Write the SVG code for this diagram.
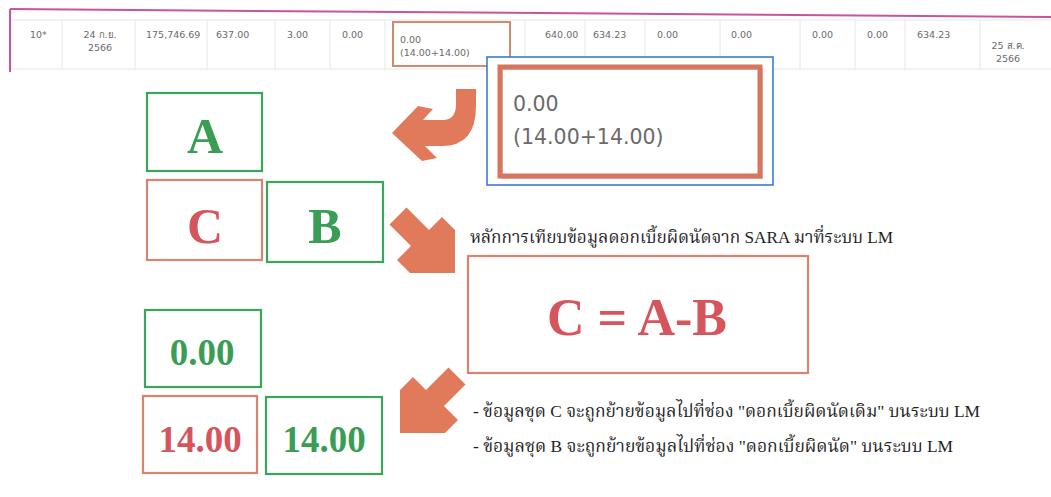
<svg xmlns="http://www.w3.org/2000/svg" width="1051" height="497" viewBox="0 0 1051 497">
<style>
.tb{font-family:"DejaVu Sans","Noto Sans",sans-serif;font-size:9.5px;fill:#6a6a6a}
.grid{stroke:#e6e6e6;stroke-width:1;fill:none}
.gbox{fill:none;stroke:#3aa65a;stroke-width:2.2}
.rbox{fill:none;stroke:#d98470;stroke-width:2.2}
.big{font-family:"Liberation Serif","Noto Serif",serif;font-weight:bold;text-anchor:middle}
.g{fill:#3a9d55}
.r{fill:#d6555d}
.arr{fill:#e07a5a}
.th{font-family:"Liberation Serif","Noto Serif Thai","Noto Sans Thai","Noto Sans","DejaVu Sans",serif;font-size:17px;fill:#1e1e1e}
</style>
<rect width="1051" height="497" fill="#ffffff"/>
<g id="table">
<path d="M10 9 L1051 17" stroke="#c8549a" stroke-width="2" fill="none"/>
<path d="M10 9 L10 72" stroke="#c8549a" stroke-width="2" fill="none"/>
<path class="grid" d="M11 20 H1051 M11 69 H1051 M62 20 V69 M135 20 V69 M207 20 V69 M275 20 V69 M330 20 V69 M385 20 V69 M525 20 V69 M585 20 V69 M645 20 V69 M720 20 V69 M800 20 V69 M855 20 V69 M905 20 V69 M980 20 V69"/>
<text class="tb" x="30" y="38">10*</text>
<text class="tb" x="100" y="38" text-anchor="middle">24 ก.ย.</text>
<text class="tb" x="100" y="51" text-anchor="middle">2566</text>
<text class="tb" x="146" y="38">175,746.69</text>
<text class="tb" x="216" y="38">637.00</text>
<text class="tb" x="287" y="38">3.00</text>
<text class="tb" x="342" y="38">0.00</text>
<rect x="393" y="22" width="117" height="44" fill="none" stroke="#d08a70" stroke-width="2"/>
<text class="tb" x="400" y="43">0.00</text>
<text class="tb" x="400" y="56">(14.00+14.00)</text>
<text class="tb" x="545" y="38">640.00</text>
<text class="tb" x="593" y="38">634.23</text>
<text class="tb" x="657" y="38">0.00</text>
<text class="tb" x="731" y="38">0.00</text>
<text class="tb" x="812" y="38">0.00</text>
<text class="tb" x="867" y="38">0.00</text>
<text class="tb" x="917" y="38">634.23</text>
<text class="tb" x="1008" y="49" text-anchor="middle">25 ส.ค.</text>
<text class="tb" x="1008" y="62" text-anchor="middle">2566</text>
</g>
<g id="zoomcell">
<rect x="487" y="57" width="286" height="128" fill="#ffffff" stroke="#3a7bd5" stroke-width="1.6"/>
<rect x="502" y="69" width="260" height="109" fill="none" stroke="#9a9a9a" stroke-width="2" opacity="0.5"/>
<rect x="500" y="67" width="260" height="109" fill="none" stroke="#d9755c" stroke-width="5"/>
<text x="513" y="111" font-family="DejaVu Sans,sans-serif" font-size="20.5" fill="#6a6a6a">0.00</text>
<text x="513" y="144" font-family="DejaVu Sans,sans-serif" font-size="20.5" fill="#6a6a6a">(14.00+14.00)</text>
</g>
<g id="nodeA"><rect class="gbox" x="147" y="93" width="115" height="78"/><text class="big g" x="205" y="153" font-size="50">A</text></g>
<g id="nodeC"><rect class="rbox" x="147" y="180" width="115" height="80"/><text class="big r" x="205" y="243" font-size="50">C</text></g>
<g id="nodeB"><rect class="gbox" x="267" y="182" width="116" height="80"/><text class="big g" x="325" y="243" font-size="50">B</text></g>
<g id="formula"><rect class="rbox" x="468" y="256" width="340" height="117"/><text class="big r" x="637" y="335" font-size="52">C = A-B</text></g>
<g id="title"><text class="th" x="470" y="243" textLength="423" lengthAdjust="spacingAndGlyphs">หลักการเทียบข้อมูลดอกเบี้ยผิดนัดจาก SARA มาที่ระบบ LM</text></g>
<g id="val0"><rect class="gbox" x="145" y="310" width="116" height="77"/><text class="big g" x="202" y="365" font-size="37">0.00</text></g>
<g id="valC"><rect class="rbox" x="143" y="396" width="114" height="77"/><text class="big r" x="200" y="452" font-size="37">14.00</text></g>
<g id="valB"><rect class="gbox" x="266" y="397" width="116" height="77"/><text class="big g" x="324" y="452" font-size="37">14.00</text></g>
<g id="notes">
<text class="th" x="473" y="417" textLength="507" lengthAdjust="spacingAndGlyphs">- ข้อมูลชุด C จะถูกย้ายข้อมูลไปที่ช่อง "ดอกเบี้ยผิดนัดเดิม" บนระบบ LM</text>
<text class="th" x="473" y="452" textLength="480" lengthAdjust="spacingAndGlyphs">- ข้อมูลชุด B จะถูกย้ายข้อมูลไปที่ช่อง "ดอกเบี้ยผิดนัด" บนระบบ LM</text>
</g>
<g id="connectors">
<path class="arr" d="M392 133 L418 106 L433 109 L423 120 L444 120 Q456 119 456 104 L456 89 L476 89 L476 106 Q476 146 442 146 L425 146 L437 158 L422 161 Z"/>
<path class="arr" d="M406.5 207.5 L429 230 L442 217 L455 230 L455 273 L410 273 L397 260 L411 246 L389.5 224.5 Z"/>
<path class="arr" d="M448.5 367.5 L426 390 L413 377 L400 390 L400 433 L445 433 L458 420 L444 406 L465.5 384.5 Z"/>
</g>
</svg>
